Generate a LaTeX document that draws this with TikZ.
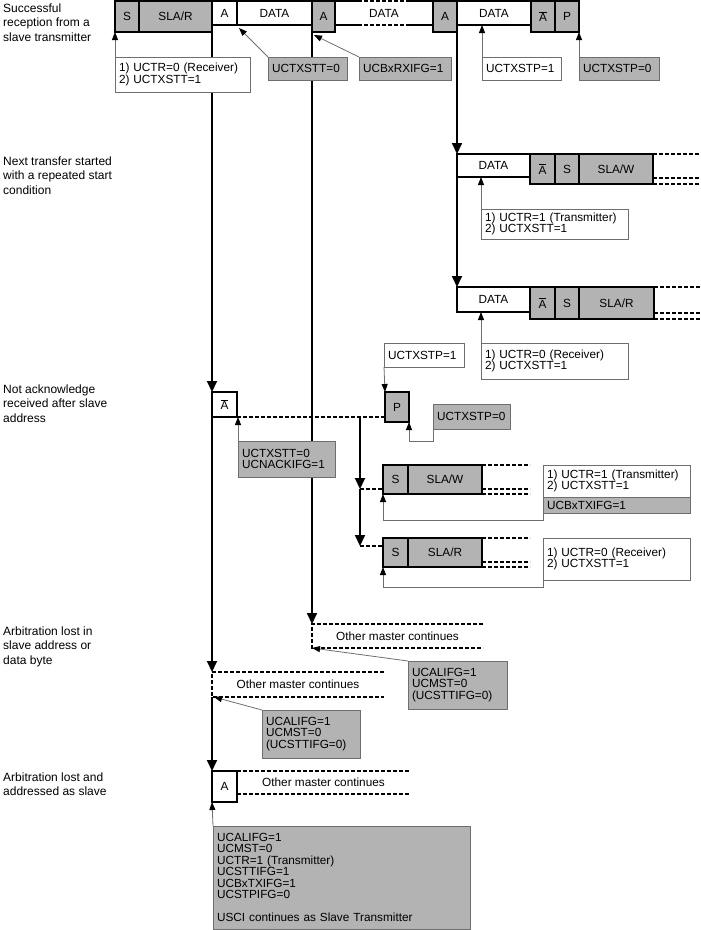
\documentclass[tikz,border=0pt]{standalone}
\usepackage{fontspec}
\setmainfont{Liberation Sans}
\usepackage{xcolor}
\usetikzlibrary{arrows.meta}

\definecolor{boxgray}{RGB}{179,179,179}
\definecolor{notegray}{RGB}{110,110,110}
\newcommand{\nackA}{$\overline{\mbox{A}}$}
\newcommand{\boxfont}{\fontsize{11.8}{11.5}\selectfont}
\newcommand{\sidefont}{\fontsize{12}{14.5}\selectfont}

\begin{document}
\begin{tikzpicture}[x=1pt, y=-1pt, font=\boxfont,
  heavy/.style={line width=2pt},
  frame/.style={draw, heavy, inner sep=0pt, outer sep=0pt, anchor=north west},
  gbox/.style={frame, fill=boxgray, minimum height=31pt},
  wbox/.style={frame, fill=white, minimum height=24pt},
  gap/.style={inner sep=0pt, outer sep=0pt, anchor=north west},
  note/.style={draw=notegray, line width=0.8pt, fill=white, anchor=north west,
               outer sep=0pt, align=left, inner xsep=4pt, inner ysep=2pt},
  gnote/.style={note, fill=boxgray},
  side/.style={anchor=north west, align=left, inner sep=0pt, font=\sidefont},
  flow/.style={heavy, -{Triangle[width=10pt,length=11pt]}},
  callarrow/.style={draw=notegray, line width=0.8pt, -{Triangle[width=6pt,length=8pt,color=black]}},
  dashline/.style={heavy, dash pattern=on 4pt off 2pt}]
  \useasboundingbox (0,0) rectangle (701,930);

  % side labels
  \node[side] (lbl1) at (3,3.5) {Successful\\reception from a\\slave transmitter};
  \node[side] (lbl2) at (3,156.5) {Next transfer started\\with a repeated start\\condition};
  \node[side] (lbl3) at (3,384.5) {Not acknowledge\\received after slave\\address};
  \node[side] (lbl4) at (3,626.5) {Arbitration lost in\\slave address or\\data byte};
  \node[side] (lbl5) at (3,772.5) {Arbitration lost and\\addressed as slave};

  % successful reception, top row
  \node[gbox, minimum width=24pt] (s1) at (115,1) {S};
  \node[gbox, minimum width=73pt] (slar1) at (s1.north east) {SLA/R};
  \node[wbox, minimum width=25pt] (a1) at (slar1.north east) {A};
  \node[wbox, minimum width=75pt] (data1) at (a1.north east) {DATA};
  \node[gbox, minimum width=23pt] (a2) at (data1.north east) {A};
  \node[gap, minimum width=98pt, minimum height=24pt] (data1b) at (a2.north east) {DATA};
  \node[gbox, minimum width=24pt] (a3) at (data1b.north east) {A};
  \node[wbox, minimum width=74pt] (data2) at (a3.north east) {DATA};
  \node[gbox, minimum width=24pt] (nack1) at (data2.north east) {\nackA};
  \node[gbox, minimum width=24pt] (p1) at (nack1.north east) {P};
  \draw[heavy] (data1b.north west) -- ++(23,0) (data1b.north east) -- ++(-26,0)
               (data1b.south west) -- ++(23,0) (data1b.south east) -- ++(-26,0);
  \draw[dashline] ([xshift=23pt]data1b.north west) -- ([xshift=-26pt]data1b.north east)
                  ([xshift=23pt]data1b.south west) -- ([xshift=-26pt]data1b.south east);

  % repeated start, write
  \node[wbox, minimum width=73pt, minimum height=23pt] (data3) at (457,154) {DATA};
  \node[gbox, minimum width=25pt, minimum height=30pt] (nack3) at (data3.north east) {\nackA};
  \node[gbox, minimum width=24pt, minimum height=30pt] (s3) at (nack3.north east) {S};
  \node[gbox, minimum width=74pt, minimum height=30pt] (slaw3) at (s3.north east) {SLA/W};
  \draw[dashline] (slaw3.north east) -- ++(48,0) (slaw3.south east) -- ++(48,0)
                  ([shift={(0,-6)}]slaw3.south east) -- ++(48,0);

  % repeated start, read
  \node[wbox, minimum width=73pt, minimum height=25pt] (data4) at (457,287) {DATA};
  \node[gbox, minimum width=25pt, minimum height=32pt] (nack4) at (data4.north east) {\nackA};
  \node[gbox, minimum width=24pt, minimum height=32pt] (s4) at (nack4.north east) {S};
  \node[gbox, minimum width=75pt, minimum height=32pt] (slar4) at (s4.north east) {SLA/R};
  \draw[dashline] (slar4.north east) -- ++(47,0) (slar4.south east) -- ++(47,0)
                  ([shift={(0,-6)}]slar4.south east) -- ++(47,0);

  % not acknowledge
  \node[wbox, minimum width=25pt, minimum height=25pt] (nack2) at (212,392) {\nackA};
  \node[gbox, minimum width=24pt, minimum height=30pt] (p2) at (385,392) {P};
  \coordinate (br) at (360,417);
  \coordinate (j5) at (360,489);
  \coordinate (j6) at (360,546);
  \node[gbox, minimum width=25pt, minimum height=29pt] (s5) at (383,465) {S};
  \node[gbox, minimum width=74pt, minimum height=29pt] (slaw5) at (s5.north east) {SLA/W};
  \node[gbox, minimum width=25pt, minimum height=29pt] (s6) at (383,538) {S};
  \node[gbox, minimum width=74pt, minimum height=29pt] (slar6) at (s6.north east) {SLA/R};
  \draw[dashline] (nack2.south east) -- (nack2.south east -| p2.west);
  \draw[flow] (br) -- (j5);
  \draw[flow] (j5) -- (j6);
  \draw[dashline] (j5) -- (j5 -| s5.west) (j6) -- (j6 -| s6.west);
  \draw[dashline] (slaw5.north east) -- ++(48,0) (slaw5.south east) -- ++(48,0)
                  ([shift={(0,-5)}]slaw5.south east) -- ++(48,0);
  \draw[dashline] (slar6.north east) -- ++(48,0) (slar6.south east) -- ++(48,0)
                  ([shift={(0,-5)}]slar6.south east) -- ++(48,0);

  % arbitration lost
  \node[gap, minimum width=171pt, minimum height=24pt] (omc1) at (312,624) {Other master continues};
  \node[gap, minimum width=172pt, minimum height=25pt] (omc2) at (212,672) {Other master continues};
  \node[wbox, minimum width=25pt, minimum height=31pt] (a5) at (212,771) {A};
  \node[gap, minimum width=173pt, minimum height=23pt] (omc3) at (a5.north east) {Other master continues};
  \draw[dashline] (omc1.north east) -- (omc1.north west) -- (omc1.south west) -- (omc1.south east);
  \draw[dashline] (omc2.north east) -- (omc2.north west) -- (omc2.south west) -- (omc2.south east);
  \draw[dashline] (omc3.north west) -- (omc3.north east) (omc3.south west) -- (omc3.south east);

  % main flow lines
  \draw[flow] (slar1.south east) -- (nack2.north west);
  \draw[flow] (nack2.south west) -- (omc2.north west);
  \draw[flow] (omc2.south west) -- (a5.north west);
  \draw[flow] (a2.south west) -- (omc1.north west);
  \draw[flow] (a3.south east) -- (data3.north west);
  \draw[flow] (data3.south west) -- (data4.north west);

  % register notes
  \node[note, text width=127pt, minimum height=35pt] (c1) at (115,57) {1) UCTR=0 (Receiver)\\2) UCTXSTT=1};
  \node[gnote, text width=71pt, minimum height=23pt] (c2) at (268,57) {UCTXSTT=0};
  \node[gnote, text width=84pt, minimum height=23pt] (c3) at (359,57) {UCBxRXIFG=1};
  \node[note, text width=71pt, minimum height=23pt] (c4) at (482,57) {UCTXSTP=1};
  \node[gnote, text width=72pt, minimum height=23pt] (c5) at (579,57) {UCTXSTP=0};
  \node[note, text width=139pt, minimum height=30pt] (call6) at (481,209) {1) UCTR=1 (Transmitter)\\2) UCTXSTT=1};
  \node[note, text width=139pt, minimum height=36pt] (call7) at (481,343) {1) UCTR=0 (Receiver)\\2) UCTXSTT=1};
  \node[note, text width=72pt, minimum height=24pt] (stp1) at (384,343) {UCTXSTP=1};
  \node[gnote, text width=69pt, minimum height=25pt] (stp0b) at (433,404) {UCTXSTP=0};
  \node[gnote, text width=89pt, minimum height=36pt] (nackcall) at (238,441) {UCTXSTT=0\\UCNACKIFG=1};
  \node[note, text width=139pt, minimum height=32pt] (call8) at (543,465) {1) UCTR=1 (Transmitter)\\2) UCTXSTT=1};
  \node[gnote, text width=139pt, minimum height=16pt] (call8b) at (call8.south west) {UCBxTXIFG=1};
  \node[note, text width=139pt, minimum height=42pt] (call9) at (543,538) {1) UCTR=0 (Receiver)\\2) UCTXSTT=1};
  \node[gnote, text width=91pt, minimum height=48pt] (alcall1) at (408,661) {UCALIFG=1\\UCMST=0\\(UCSTTIFG=0)};
  \node[gnote, text width=90pt, minimum height=48pt] (alcall2) at (262,710) {UCALIFG=1\\UCMST=0\\(UCSTTIFG=0)};
  \node[gnote, text width=249pt, minimum height=103pt, inner ysep=5pt] (big) at (213,826)
        {UCALIFG=1\\UCMST=0\\UCTR=1 (Transmitter)\\UCSTTIFG=1\\UCBxTXIFG=1\\UCSTPIFG=0\\[11.5pt]USCI continues as Slave Transmitter};

  % note pointers
  \draw[callarrow] (c1.north west) -- (s1.south west);
  \draw[callarrow] (c2.north west) -- ([shift={(2,3)}]a1.south east);
  \draw[callarrow] (c3.north west) -- ([shift={(2,3)}]a2.south west);
  \draw[callarrow] (c4.north west) -- (c4.north west |- data2.south);
  \draw[callarrow] (c5.north west) -- (p1.south east);
  \draw[callarrow] (call6.north west) -- (call6.north west |- data3.south);
  \draw[callarrow] (call7.north west) -- (call7.north west |- data4.south);
  \draw[callarrow] (stp1.south west) -- (p2.north west);
  \draw[callarrow] (stp0b.south west) -- ++(0,12) -| (p2.south east);
  \draw[callarrow] (nackcall.north west) -- (nackcall.north west |- nack2.south);
  \draw[callarrow] (call8b.south west) -- ++(0,7) -| (s5.south west);
  \draw[callarrow] (call9.south west) -- ++(0,7) -| (s6.south west);
  \draw[callarrow] (alcall1.north west) -- (omc1.south west);
  \draw[callarrow] (alcall2.north west) -- ([xshift=2pt]omc2.south west);
  \draw[callarrow] (big.north west) -- (a5.south west);
\end{tikzpicture}
\end{document}
